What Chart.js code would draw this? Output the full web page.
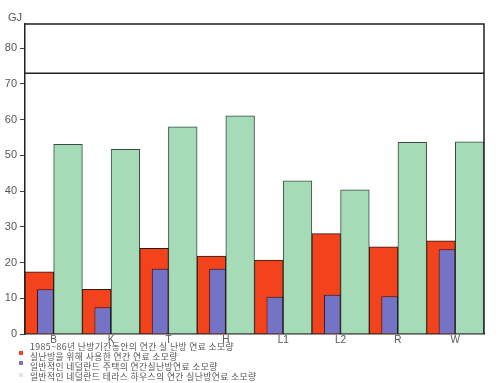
<!DOCTYPE html>
<html><head><meta charset="utf-8">
<script src="https://cdn.jsdelivr.net/npm/chart.js@4/dist/chart.umd.min.js"></script>
<style>
html,body{margin:0;padding:0;background:#fff;}
#wrap{position:relative;width:500px;height:383px;overflow:hidden;}
canvas{position:absolute;left:0;top:0;}
.leg{position:absolute;left:30px;font-family:"Noto Sans CJK KR","Noto Sans",sans-serif;font-size:8.8px;letter-spacing:0.4px;color:#555;white-space:nowrap;line-height:10px;}
.mk{position:absolute;left:19px;width:4px;height:4px;}
#unit{position:absolute;left:8px;top:11px;font-family:"Liberation Sans",Arial,sans-serif;font-size:11px;color:#555;}
</style></head><body>
<div id="wrap"><canvas id="c" width="500" height="383"></canvas><div id="unit">GJ</div><div id="legend"></div></div>
<script>
const categories = ['B','K','T','H','L1','L2','R','W'];
const actualUse = [17.4, 12.5, 24.0, 21.8, 20.7, 28.1, 24.4, 26.1];     // red
const typicalHouse = [12.5, 7.5, 18.3, 18.3, 10.4, 11.0, 10.6, 23.7];   // blue
const terraceHouse = [53.1, 51.7, 58.0, 61.1, 42.9, 40.4, 53.7, 53.8];  // green
const yTicks = [0, 10, 20, 30, 40, 50, 60, 70, 80];
const yMax = 86.8;
const referenceLine = 73;
const legendLabels = [
  '1985~86년 난방기간동안의 연간 실 난방 연료 소모량',
  '실난방을 위해 사용한 연간 연료 소모량',
  '일반적인 네덜란드 주택의 연간실난방연료 소모량',
  '일반적인 네덜란드 테라스 하우스의 연간 실난방연료 소모량'
];
const legendMarkers = [null, '#f2431c', '#7474c6', '#dde8e0'];

// legend (HTML text)
const lg = document.getElementById('legend');
legendLabels.forEach((t, i) => {
  const d = document.createElement('div');
  d.className = 'leg'; d.style.top = (342 + i * 10) + 'px'; d.textContent = t;
  lg.appendChild(d);
  if (legendMarkers[i]) {
    const m = document.createElement('div');
    m.className = 'mk'; m.style.top = (341 + i * 10 + (i === 3 ? 2 : 0)) + 'px';
    m.style.background = legendMarkers[i];
    lg.appendChild(m);
  }
});

const framePlugin = {
  id: 'frame',
  afterDatasetsDraw(chart) {
    const {ctx, chartArea: a, scales: {y}} = chart;
    ctx.save();
    ctx.strokeStyle = '#222'; ctx.lineWidth = 1.5;
    ctx.beginPath();
    ctx.moveTo(a.left, a.top); ctx.lineTo(a.right, a.top); ctx.lineTo(a.right, a.bottom);
    const yl = y.getPixelForValue(referenceLine);
    ctx.moveTo(a.left, yl); ctx.lineTo(a.right, yl);
    ctx.stroke();
    ctx.restore();
  }
};

new Chart(document.getElementById('c'), {
  type: 'bar',
  data: {
    labels: categories,
    datasets: [
      { label: legendLabels[1], data: actualUse, backgroundColor: '#f2431c', borderColor: '#2a1a14', borderWidth: 1,
        stack: 'left', order: 1, categoryPercentage: 1, barPercentage: 1 },
      { label: legendLabels[2], data: typicalHouse, backgroundColor: '#7474c6', borderColor: '#1a1a30', borderWidth: 1,
        stack: 'left', order: 0, categoryPercentage: 0.58, barPercentage: 1 },
      { label: legendLabels[3], data: terraceHouse, backgroundColor: '#a6dbb8', borderColor: '#3a4a40', borderWidth: 1,
        stack: 'right', order: 1, categoryPercentage: 1, barPercentage: 1 }
    ]
  },
  options: {
    responsive: false,
    devicePixelRatio: 1,
    animation: false,
    layout: { padding: { top: 24, right: 16, left: 0, bottom: 0 } },
    plugins: { legend: { display: false }, tooltip: { enabled: false } },
    scales: {
      x: {
        type: 'category', offset: true,
        grid: { display: true, drawOnChartArea: false, drawTicks: false },
        border: { display: true, color: '#222', width: 1.5 },
        ticks: { color: '#555', font: { family: 'Liberation Sans', size: 10 }, padding: 0, maxRotation: 0 },
        afterFit: s => { s.height = 49; }
      },
      y: {
        min: 0, max: yMax, stacked: false,
        grid: { display: true, drawOnChartArea: false, drawTicks: true, tickLength: 5, color: '#444' },
        border: { display: true, color: '#222', width: 1.5 },
        ticks: { color: '#555', font: { family: 'Liberation Sans', size: 11 }, padding: 3 },
        afterBuildTicks: s => { s.ticks = yTicks.map(v => ({ value: v })); },
        afterFit: s => { s.width = 25; }
      }
    }
  },
  plugins: [framePlugin]
});
</script>
</body></html>
